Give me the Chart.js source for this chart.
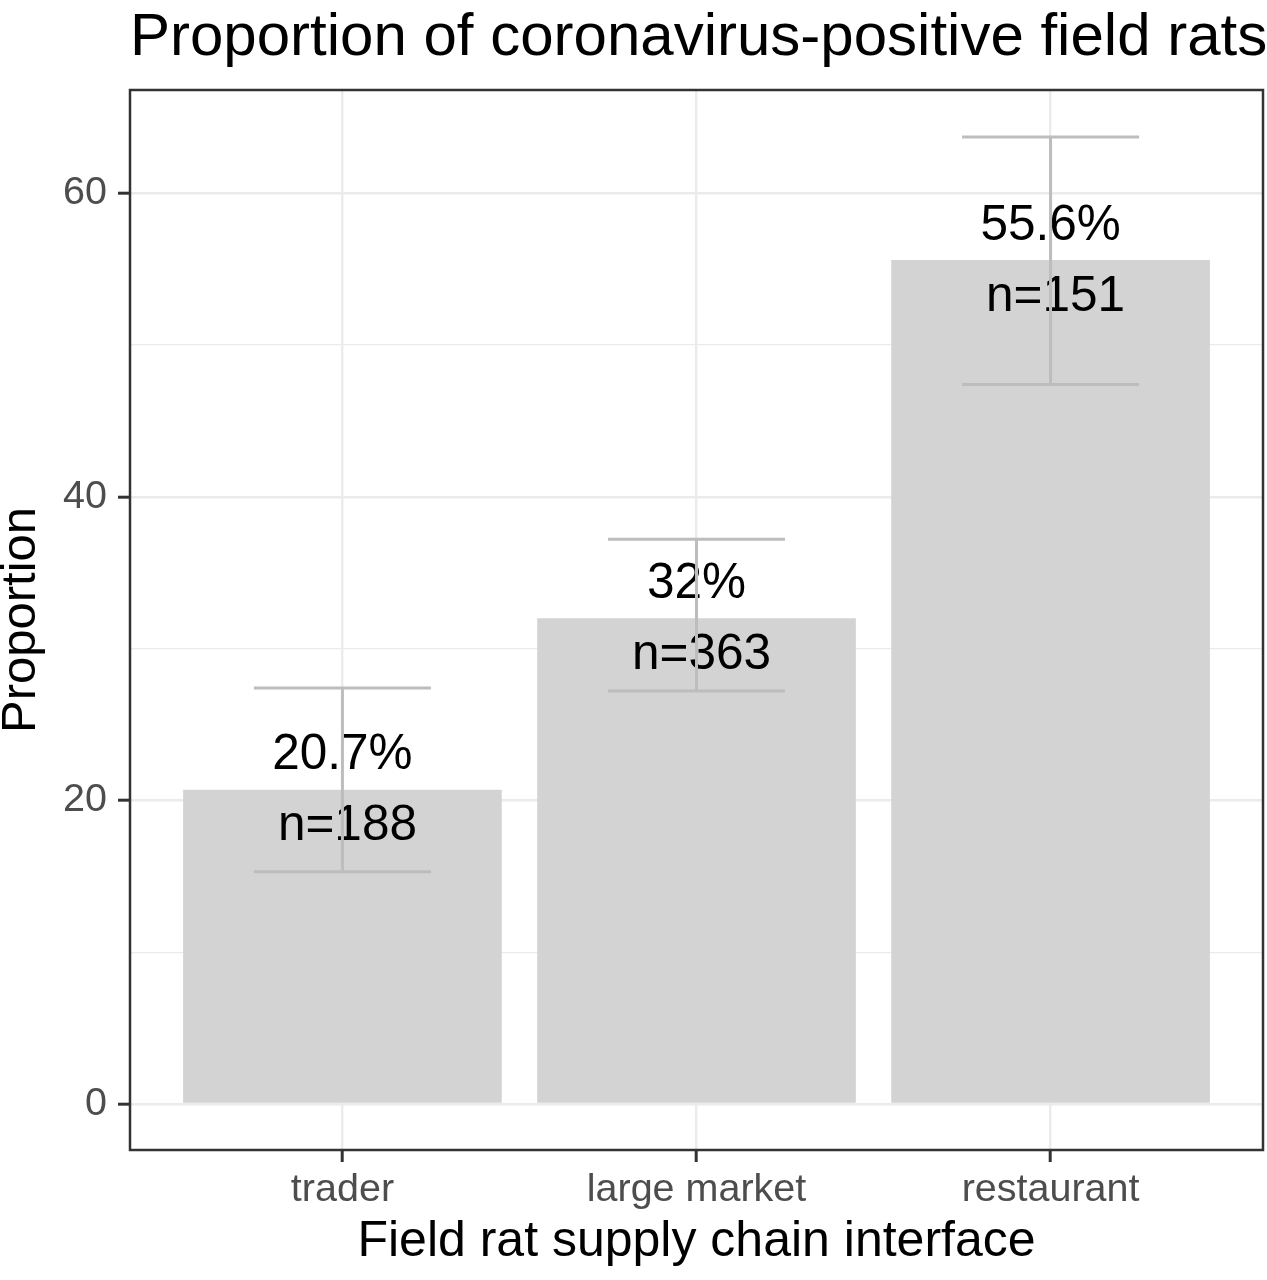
<!DOCTYPE html>
<html>
<head>
<meta charset="utf-8">
<script src="https://cdn.jsdelivr.net/npm/chart.js@4.4.1/dist/chart.umd.min.js"></script>
<style>
  html, body { margin: 0; padding: 0; background: #fff; }
  #wrap { width: 1267px; height: 1280px; }
</style>
</head>
<body>
<div id="wrap"><canvas id="myChart" width="1267" height="1280"></canvas></div>
<script>
// Data
const categories = ['trader', 'large market', 'restaurant'];
const proportions = [20.7, 32, 55.6];
const lowerCI = [15.3, 27.2, 47.4];
const upperCI = [27.4, 37.2, 63.7];
const sampleSizes = [188, 363, 151];
const pctLabels = ['20.7%', '32%', '55.6%'];
const yMajorTicks = [0, 20, 40, 60];
const yMinorTicks = [10, 30, 50];

const FONT = "'Liberation Sans', Arial, Helvetica, sans-serif";
const gridColor = '#ebebeb';
const axisDark = '#333333';

// error bars, bar labels, panel border and title
const extras = {
  id: 'extras',
  afterDatasetsDraw(chart) {
    const ctx = chart.ctx;
    const x = chart.scales.x;
    const y = chart.scales.y;
    ctx.save();
    // bar labels
    ctx.fillStyle = '#000';
    ctx.font = '49.5px ' + FONT;
    ctx.textAlign = 'center';
    ctx.textBaseline = 'middle';
    for (let i = 0; i < categories.length; i++) {
      const cx = x.getPixelForValue(i + 1);
      const top = y.getPixelForValue(proportions[i]);
      ctx.fillText(pctLabels[i], cx, top - 34);
      ctx.fillText('n=' + sampleSizes[i], cx + 5, top + 37);
    }
    // error bars
    ctx.strokeStyle = '#bdbdbd';
    ctx.lineWidth = 3;
    for (let i = 0; i < categories.length; i++) {
      const cx = x.getPixelForValue(i + 1);
      const x0 = x.getPixelForValue(i + 1 - 0.25);
      const x1 = x.getPixelForValue(i + 1 + 0.25);
      const yl = y.getPixelForValue(lowerCI[i]);
      const yu = y.getPixelForValue(upperCI[i]);
      ctx.beginPath();
      ctx.moveTo(x0, yu); ctx.lineTo(x1, yu);
      ctx.moveTo(x0, yl); ctx.lineTo(x1, yl);
      ctx.moveTo(cx, yu); ctx.lineTo(cx, yl);
      ctx.stroke();
    }
    ctx.restore();
  },
  afterDraw(chart) {
    const ctx = chart.ctx;
    const a = chart.chartArea;
    ctx.save();
    ctx.strokeStyle = axisDark;
    ctx.lineWidth = 2.5;
    ctx.strokeRect(a.left, a.top, a.right - a.left, a.bottom - a.top);
    ctx.fillStyle = '#000';
    ctx.font = '60px ' + FONT;
    ctx.textAlign = 'left';
    ctx.textBaseline = 'middle';
    ctx.fillText('Proportion of coronavirus-positive field rats', a.left, 38);
    ctx.restore();
  }
};

const bgPlugin = {
  id: 'bg',
  beforeDraw(chart) {
    const ctx = chart.ctx;
    ctx.save();
    ctx.fillStyle = '#fff';
    ctx.fillRect(0, 0, chart.width, chart.height);
    ctx.restore();
  }
};

const config = {
  type: 'bar',
  data: {
    datasets: [
      {
        data: proportions.map((v, i) => ({ x: i + 1, y: v })),
        backgroundColor: '#d3d3d3',
        borderWidth: 0,
        barPercentage: 0.9,
        categoryPercentage: 1.0,
      },
    ],
  },
  options: {
    responsive: false,
    animation: false,
    layout: { padding: { top: 90, right: 4, left: 0, bottom: 0 } },
    plugins: {
      legend: { display: false },
      tooltip: { enabled: false },
      title: { display: false },
    },
    scales: {
      x: {
        type: 'linear',
        min: 0.4,
        max: 3.6,
        offset: false,
        afterBuildTicks(scale) {
          scale.ticks = categories.map((c, i) => ({ value: i + 1 }));
        },
        afterFit(scale) { scale.height = 130; },
        ticks: {
          autoSkip: false,
          maxRotation: 0,
          padding: 4,
          color: '#4d4d4d',
          font: { family: FONT, size: 39.5 },
          callback: (v) => categories[v - 1],
        },
        grid: {
          offset: false,
          color: gridColor,
          lineWidth: 2.4,
          tickLength: 12,
          tickColor: axisDark,
          tickWidth: 3,
        },
        border: { display: false },
        title: {
          display: true,
          text: 'Field rat supply chain interface',
          color: '#000',
          font: { family: FONT, size: 50 },
          padding: { top: 0, bottom: 8 },
        },
      },
      y: {
        min: -3.03,
        max: 66.8,
        afterBuildTicks(scale) {
          scale.ticks = yMajorTicks.concat(yMinorTicks).sort((a, b) => a - b).map((v) => ({ value: v }));
        },
        afterFit(scale) { scale.width = 130; },
        ticks: {
          padding: 11,
          color: '#4d4d4d',
          font: { family: FONT, size: 39.5 },
          callback: (v) => (yMajorTicks.includes(v) ? String(v) : ''),
        },
        grid: {
          color: gridColor,
          lineWidth: (c) => (yMajorTicks.includes(c.tick.value) ? 2.4 : 1.2),
          tickLength: 12,
          tickColor: (c) => (yMajorTicks.includes(c.tick.value) ? axisDark : 'rgba(0,0,0,0)'),
          tickWidth: 3,
        },
        border: { display: false },
        title: {
          display: true,
          text: 'Proportion',
          color: '#000',
          font: { family: FONT, size: 49, lineHeight: 0.86 },
          padding: { top: 0, bottom: 0 },
        },
      },
    },
  },
  plugins: [bgPlugin, extras],
};

const myChart = new Chart(document.getElementById('myChart'), config);
</script>
</body>
</html>
